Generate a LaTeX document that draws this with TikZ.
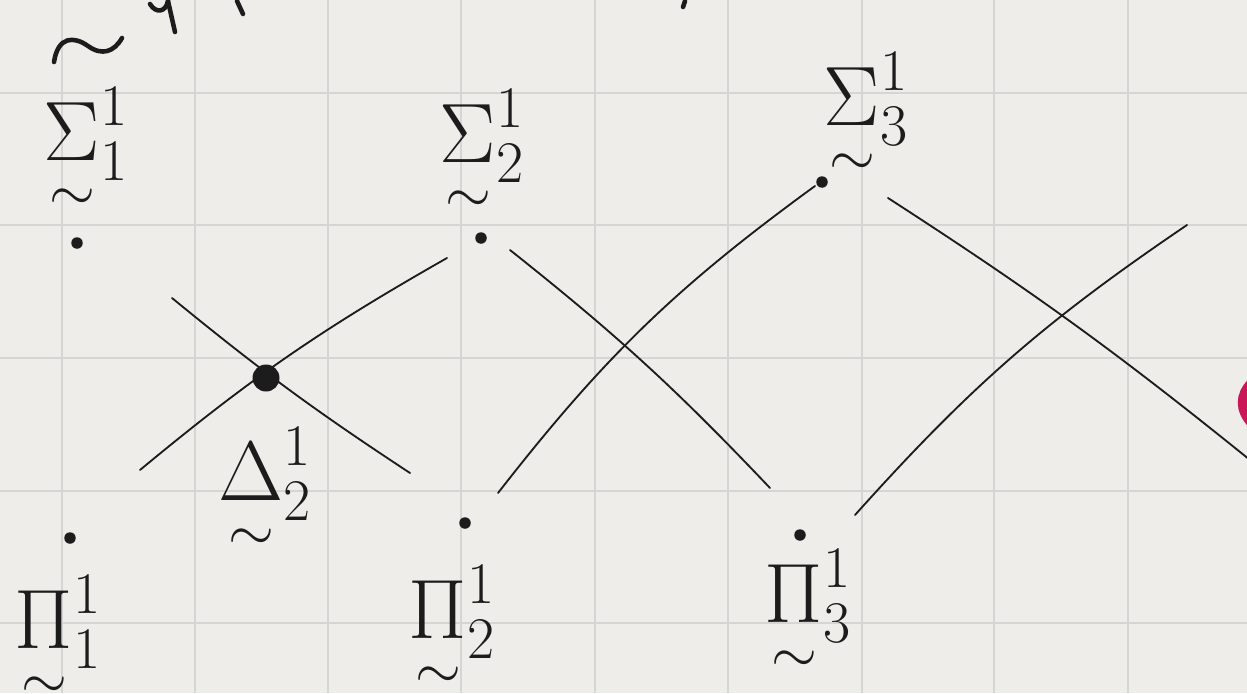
\documentclass[tikz,border=0pt]{standalone}
\usepackage{fix-cm}
\usepackage{amsmath,amssymb}
\definecolor{Paper}{HTML}{EFEDEA}
\definecolor{GridLine}{HTML}{D5D5D3}
\definecolor{Ink}{HTML}{1C1C1C}
\definecolor{Marker}{HTML}{C8185A}
\usepackage{tikz}
\tikzset{
  gridline/.style={draw=GridLine, line width=0.9pt},
  pen/.style={draw=Ink, line width=1.05pt, line cap=round},
  fatpen/.style={draw=Ink, line width=2.6pt, line cap=round},
  dotnode/.style={circle, fill=Ink, inner sep=0pt, minimum size=2.3mm},
  bigdot/.style={circle, fill=Ink, inner sep=0pt, minimum size=5.4mm},
  classlabel/.style={text=Ink, inner sep=0pt, font=\fontsize{48}{52}\selectfont}
}
\newcommand{\uti}[1]{{\smash[b]{\underset{\sim}{#1}}}}

\begin{document}
\begin{tikzpicture}[x=0.02cm, y=-0.02cm]
% paper and grid
\fill[Paper] (0,0) rectangle (1247,693);
\useasboundingbox (0,0) rectangle (1247,693);
\foreach \gx in {62,195,328,461,595,728,862,994,1128}
  \draw[gridline] (\gx,0) -- (\gx,693);
\foreach \gy in {93,225,358,491,623}
  \draw[gridline] (0,\gy) -- (1247,\gy);

% cut-off writing along the top edge
\draw[fatpen] (54,62) .. controls (58,36) and (74,36) .. (88,46)
  .. controls (102,56) and (114,52) .. (122,38);
\draw[fatpen] (150,4) .. controls (156,14) and (166,12) .. (168,1);
\draw[fatpen] (168,1) -- (175,32);
\draw[fatpen] (237,1) -- (243,14);
\draw[fatpen] (685,1) -- (683,7);
\draw[Marker, line width=1.8mm, line cap=round] (1252,382) .. controls (1239,395) and (1239,410) .. (1252,424);

% points
\node[dotnode] (s1) at (77,243) {};
\node[dotnode] (s2) at (481,238) {};
\node[dotnode] (s3) at (822,182) {};
\node[dotnode] (p1) at (70,538) {};
\node[dotnode] (p2) at (465,523) {};
\node[dotnode] (p3) at (800,535) {};
\node[bigdot] (d2) at (266,378) {};

% labels
\node[classlabel] (s1lbl) at (86,134) {$\uti{\Sigma}^1_1$};
\node[classlabel] (s2lbl) at (482,136) {$\uti{\Sigma}^1_2$};
\node[classlabel] (s3lbl) at (866,99) {$\uti{\Sigma}^1_3$};
\node[classlabel] (p1lbl) at (58,622) {$\uti{\Pi}^1_1$};
\node[classlabel] (p2lbl) at (452,612) {$\uti{\Pi}^1_2$};
\node[classlabel] (p3lbl) at (808,596) {$\uti{\Pi}^1_3$};
\node[classlabel] (d2lbl) at (265,474) {$\uti{\Delta}^1_2$};

% crossing strokes
\coordinate (a1) at (140,470);
\coordinate (a2) at (447,258);
\coordinate (b1) at (172,298);
\coordinate (b2) at (410,473);
\coordinate (c1) at (498,493);
\coordinate (c2) at (815,186);
\coordinate (e1) at (510,250);
\coordinate (e2) at (770,488);
\coordinate (f1) at (888,198);
\coordinate (f2) at (1250,460);
\coordinate (g1) at (855,515);
\coordinate (g2) at (1187,225);
\draw[pen] (a1) to[bend left=5] (a2);
\draw[pen] (b1) to[bend right=3] (b2);
\draw[pen] (c1) to[bend left=8] (c2);
\draw[pen] (e1) to[bend left=4] (e2);
\draw[pen] (f1) to[bend left=3] (f2);
\draw[pen] (g1) to[bend left=7] (g2);
\end{tikzpicture}
\end{document}
